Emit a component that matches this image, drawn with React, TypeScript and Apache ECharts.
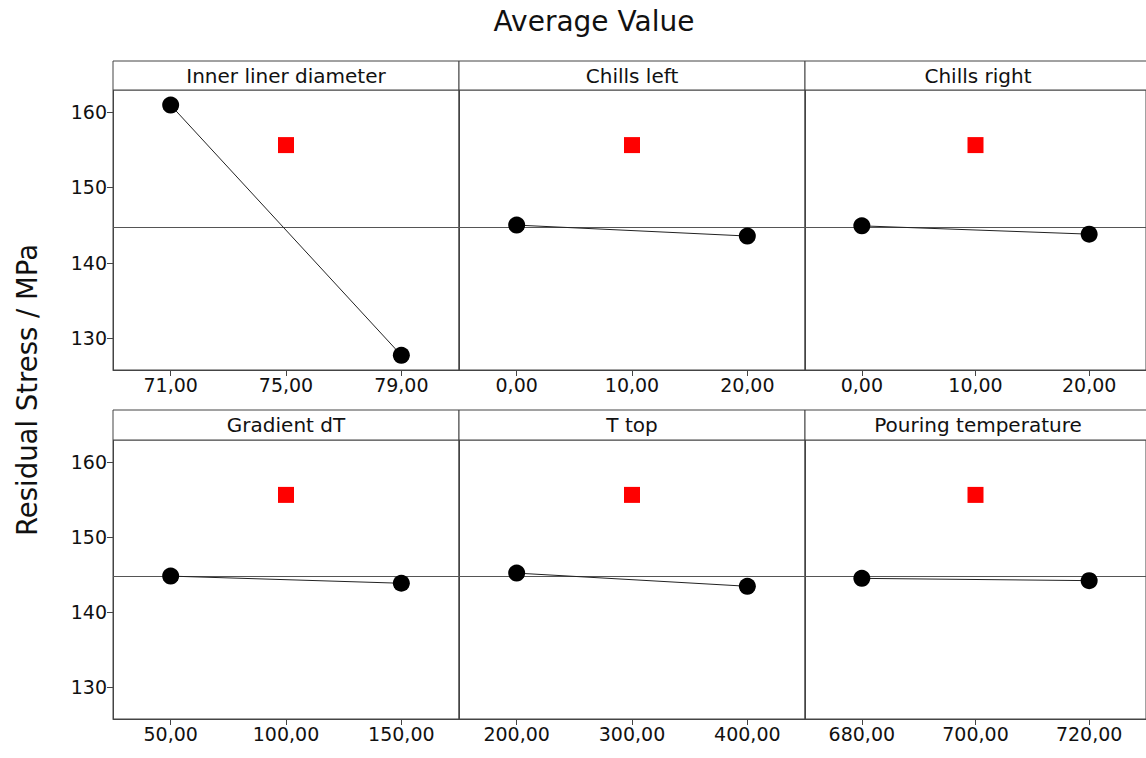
import React, { useEffect, useRef } from "react";
import * as echarts from "echarts";

const factors = ["Inner liner diameter", "Chills left", "Chills right", "Gradient dT", "T top", "Pouring temperature"];
const levelLow = [71, 0, 0, 50, 200, 680];
const levelHigh = [79, 20, 20, 150, 400, 720];
const levelMid = [75, 10, 10, 100, 300, 700];
const meanLow = [160.9, 145.0, 144.9, 144.8, 145.2, 144.5];
const meanHigh = [127.75, 143.55, 143.8, 143.85, 143.45, 144.2];
const centerMean = [155.6, 155.6, 155.6, 155.6, 155.6, 155.6];
const grandMean = 144.75;
const xMinArr = [69, -5, -5, 25, 150, 670];
const xMaxArr = [81, 25, 25, 175, 450, 730];
const yTicks = [130, 140, 150, 160];
const yMin = 125.8;
const yMax = 162.9;

const FONT = "DejaVu Sans";

export default function App() {
  const ref = useRef<HTMLDivElement>(null);
  useEffect(() => {
    if (!ref.current) return;
    const chart = echarts.init(ref.current, null, { renderer: "svg" });
    const colLeft = [113, 459, 805];
    const colW = 346;
    const rowPlotTop = [90, 440];
    const rowPlotH = [280, 279];
    const rowHeadTop = [61, 410];

    const grids: any[] = [];
    const xAxes: any[] = [];
    const yAxes: any[] = [];
    const series: any[] = [];
    const graphics: any[] = [];

    factors.forEach((name, i) => {
      const r = Math.floor(i / 3);
      const c = i % 3;
      grids.push({
        left: colLeft[c],
        top: rowPlotTop[r],
        width: colW,
        height: rowPlotH[r],
        show: true,
        borderColor: "#444",
        borderWidth: 1,
        containLabel: false,
      });
      const xt = [levelLow[i], levelMid[i], levelHigh[i]];
      xAxes.push({
        type: "value",
        gridIndex: i,
        min: xMinArr[i],
        max: xMaxArr[i],
        axisLine: { show: true, onZero: false, lineStyle: { color: "#444", width: 1 } },
        axisTick: { show: true, length: 6, lineStyle: { color: "#444" }, customValues: xt },
        axisLabel: {
          show: true,
          customValues: xt,
          formatter: (v: number) => v.toFixed(2).replace(".", ","),
          color: "#111",
          fontFamily: FONT,
          fontSize: 19,
          margin: 5,
        },
        splitLine: { show: false },
      });
      yAxes.push({
        type: "value",
        gridIndex: i,
        min: yMin,
        max: yMax,
        axisLine: { show: true, onZero: false, lineStyle: { color: "#444", width: 1 } },
        axisTick: { show: c === 0, length: 6, lineStyle: { color: "#444" }, customValues: yTicks },
        axisLabel: {
          show: c === 0,
          customValues: yTicks,
          color: "#111",
          fontFamily: FONT,
          fontSize: 19,
          margin: 6,
        },
        splitLine: { show: false },
      });
      series.push({
        type: "line",
        xAxisIndex: i,
        yAxisIndex: i,
        data: [
          [levelLow[i], meanLow[i]],
          [levelHigh[i], meanHigh[i]],
        ],
        symbol: "circle",
        symbolSize: 17,
        itemStyle: { color: "#000", opacity: 1 },
        lineStyle: { color: "#222", width: 1 },
        z: 5,
        markLine: {
          silent: true,
          symbol: "none",
          label: { show: false },
          lineStyle: { color: "#555", width: 1, type: "solid" },
          data: [{ yAxis: grandMean }],
          z: 2,
        },
      });
      series.push({
        type: "scatter",
        xAxisIndex: i,
        yAxisIndex: i,
        data: [[levelMid[i], centerMean[i]]],
        symbol: "rect",
        symbolSize: 16,
        itemStyle: { color: "#ff0000", opacity: 1 },
        z: 4,
      });
      graphics.push({
        type: "rect",
        shape: { x: colLeft[c], y: rowHeadTop[r], width: colW, height: rowPlotTop[r] - rowHeadTop[r] },
        style: { fill: "#fff", stroke: "#444", lineWidth: 1 },
        z: 10,
      });
      graphics.push({
        type: "text",
        x: colLeft[c] + colW / 2,
        y: (rowHeadTop[r] + rowPlotTop[r]) / 2,
        style: {
          text: name,
          fill: "#111",
          font: `20px "${FONT}"`,
          textAlign: "center",
          textVerticalAlign: "middle",
        },
        z: 11,
      });
    });

    chart.setOption({
      animation: false,
      backgroundColor: "#fff",
      title: {
        text: "Average Value",
        left: 589,
        top: 2,
        textAlign: "center",
        textStyle: { fontFamily: FONT, fontSize: 28, fontWeight: "normal", color: "#111" },
      },
      graphic: [
        ...graphics,
        {
          type: "text",
          x: 27,
          y: 390,
          rotation: Math.PI / 2,
          style: {
            text: "Residual Stress / MPa",
            fill: "#111",
            font: `27.5px "${FONT}"`,
            textAlign: "center",
            textVerticalAlign: "middle",
          },
        },
      ],
      grid: grids,
      xAxis: xAxes,
      yAxis: yAxes,
      series,
    });
    return () => chart.dispose();
  }, []);
  return (
    <div
      ref={ref}
      style={{ position: "fixed", left: 0, top: 0, width: 1146, height: 758 }}
    />
  );
}
